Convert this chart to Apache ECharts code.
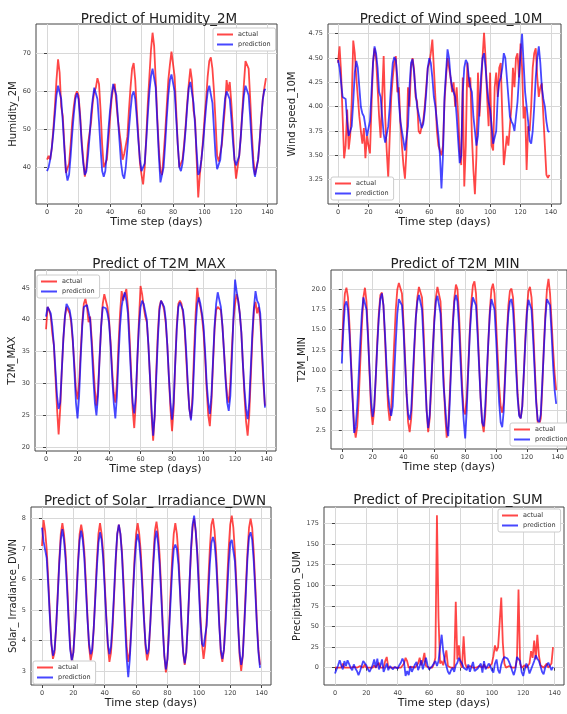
<!DOCTYPE html>
<html>
<head>
<meta charset="utf-8">
<title>Predict of weather variables</title>
<script src="https://cdn.jsdelivr.net/npm/echarts@6/dist/echarts.min.js"></script>
<style>
  html, body { margin: 0; padding: 0; background: #fff; }
  #chart { width: 567px; height: 714px; }
</style>
</head>
<body>
<div id="chart"></div>
<script>
// time steps 0..139
var days = [];
for (var i = 0; i < 140; i++) days.push(i);

var dayTicks = [0, 20, 40, 60, 80, 100, 120, 140];

var humidityTicks = [40, 50, 60, 70];
var humidityActual = [
  42, 43, 42, 45, 50, 56, 63, 68.5, 65, 56,
  53.5, 46, 38.5, 38, 41, 46, 52, 56, 59, 60,
  59, 54, 47, 42, 37.5, 40, 46, 46.5, 52, 57,
  60, 61, 63.5, 62, 55, 46, 40, 39.5, 42, 47,
  53, 58, 61, 62, 57, 52.5, 52, 46, 42, 43.5,
  44, 48, 55, 61, 66, 67.5, 63, 55, 48, 41,
  38, 35.5, 40, 48, 57, 64, 71, 75.5, 72, 63,
  53, 45, 39, 38, 43, 49, 56, 63, 67, 70.5,
  70, 64, 55, 46, 40, 39.5, 42, 46, 51, 57,
  62, 66, 63, 55, 52.5, 42, 32, 38, 42, 47,
  53, 58, 64, 68, 69, 66, 60, 52, 43, 41.5,
  42, 46, 51, 56, 63, 60, 62.5, 57, 50, 42,
  37, 40, 43, 48, 55, 62, 68, 67.5, 66, 58,
  49, 42, 38, 38.5, 42, 47, 53, 58, 61, 63.5
];
var humidityPred = [
  39, 40, 42, 45, 49, 54, 59, 61.5, 62, 58,
  52, 45, 39, 36.5, 38, 43, 49, 54, 58, 59.5,
  58, 53, 46, 41, 38, 39, 43, 48, 54, 58,
  61, 61, 58, 52, 45, 39, 37.5, 39, 44, 50,
  55, 59, 62, 62.5, 59, 53, 47, 41, 38, 37,
  40, 45, 50, 55, 59, 60, 58, 53, 47, 42,
  39, 38.5, 41, 47, 54, 60, 64, 66, 66, 61,
  52, 43, 36, 36.5, 40, 46, 53, 59, 63, 64.5,
  64, 60, 53, 46, 40, 39, 41, 45, 50, 56,
  61, 62.5, 62, 57, 51, 44, 38, 39, 42, 46,
  51, 56, 60, 61.5, 61, 57, 50, 43, 39.5, 39.5,
  42, 47, 53, 58, 60, 60, 58, 53, 47, 42,
  40.5, 41, 43, 48, 54, 59, 61.5, 62, 59, 53,
  46, 40, 37.5, 38, 42, 47, 53, 58, 60.5, 60.5
];

var windTicks = [3.25, 3.5, 3.75, 4.0, 4.25, 4.5, 4.75];
var windActual = [
  4.45, 4.62, 4.35, 3.9, 3.47, 3.6, 3.97, 3.56, 3.7, 4.05,
  4.68, 4.55, 4.3, 4.1, 3.9, 3.75, 3.62, 3.78, 3.47, 3.7,
  3.6, 3.52, 4.0, 4.45, 4.6, 4.5, 4.2, 3.9, 3.68, 4.1,
  4.52, 3.9, 3.55, 3.27, 3.7, 4.1, 4.3, 4.45, 4.52, 4.15,
  4.2, 3.85, 3.6, 3.4, 3.26, 3.55, 4.2, 4.0, 4.4, 4.5,
  4.38, 4.1, 4.05, 3.75, 3.72, 3.8, 3.85, 4.0, 4.2, 4.4,
  4.45, 4.55, 4.69, 4.4, 4.1, 3.75, 3.6, 3.55, 3.5, 3.6,
  4.05, 4.3, 4.5, 4.52, 4.3, 4.15, 4.25, 4.0, 4.2, 3.9,
  3.55, 3.4, 4.3, 3.18, 3.6, 4.45, 4.2, 4.3, 3.7, 3.35,
  3.1, 3.5, 4.35, 3.9, 4.2, 4.5, 4.76, 4.5, 4.1, 3.8,
  4.35, 3.6, 3.55, 4.2, 4.35, 4.1, 4.4, 4.45, 3.9, 3.4,
  3.42, 3.7, 3.6, 3.8, 4.0, 4.4, 4.2, 4.5, 4.55, 4.3,
  4.65, 4.4, 3.88, 4.0, 3.35, 3.8, 3.75, 4.0, 4.4, 4.55,
  4.6, 4.3, 4.1, 4.2, 4.24, 3.9, 3.6, 3.3, 3.27, 3.3
];
var windPred = [
  4.48, 4.4, 4.25, 4.1, 4.08, 4.08, 3.85, 3.7, 3.68, 3.8,
  4.05, 4.35, 4.47, 4.4, 4.2, 4.0, 3.93, 3.9, 3.8, 3.7,
  3.72, 3.85, 4.15, 4.45, 4.62, 4.55, 4.4, 4.15, 4.1, 3.9,
  3.72, 3.63, 3.65, 3.8, 4.0, 4.25, 4.45, 4.51, 4.48, 4.3,
  4.05, 3.85, 3.75, 3.65, 3.55, 3.54, 3.8, 4.2, 4.45, 4.49,
  4.35, 4.15, 4.0, 3.99, 3.85, 3.78, 3.82, 3.95, 4.15, 4.4,
  4.5, 4.45, 4.3, 4.1, 4.0, 3.85, 3.7, 3.5, 3.16, 3.5,
  4.1, 4.35, 4.59, 4.5, 4.3, 4.2, 4.15, 4.1, 3.9, 3.65,
  3.42, 3.5, 4.15, 4.4, 4.48, 4.45, 4.3, 4.2, 4.15, 3.9,
  3.75, 3.6, 3.7, 4.0, 4.3, 4.5, 4.55, 4.4, 4.2, 4.05,
  3.97, 3.8, 3.62, 3.6, 3.75, 4.1, 4.25, 4.3, 4.4, 4.55,
  4.5, 4.3, 4.1, 3.9, 3.85, 3.82, 3.75, 3.9, 4.05, 4.3,
  4.55, 4.75, 4.45, 4.15, 4.0, 3.85, 3.65, 3.62, 3.75, 4.0,
  4.3, 4.5, 4.62, 4.45, 4.2, 4.08, 4.0, 3.85, 3.75, 3.74
];

var tmaxTicks = [20, 25, 30, 35, 40, 45];
var tmaxActual = [
  38.5, 42, 41.5, 40.5, 37.8, 36, 31, 26, 22, 26,
  32, 37, 40.5, 42, 41.8, 41, 39.5, 36.5, 33, 29,
  27.5, 30, 35, 39.5, 42.5, 43.3, 42, 39.6, 40.5, 37,
  33, 29, 26.5, 29, 34, 39, 42.5, 44, 43.8, 42,
  40, 36.5, 32, 28.5, 27, 30, 36, 41, 44.5, 43,
  44, 44.8, 42, 37.5, 32, 26, 23, 27, 34, 40,
  45.3, 44, 42, 40.5, 39.6, 36, 31, 25, 21, 25,
  32, 38, 42, 43, 42.5, 41.5, 39.5, 36, 31, 26,
  22.5, 26, 33, 39, 42.5, 43, 42.5, 41, 38.5, 34,
  29.5, 26, 24.5, 28, 35, 41, 45, 43, 42, 40.5,
  38, 34, 29, 25, 23.3, 27, 33, 38.5, 41.5, 42,
  42, 41.5, 39, 35, 31, 28, 27, 30, 35.5, 40,
  42.5, 44, 43, 41, 38, 33, 28, 24, 21.8, 25,
  31, 37, 41.5, 42.8, 41, 42, 40, 35, 30, 26.5
];
var tmaxPred = [
  40.5, 42, 42.2, 41, 39, 36, 32, 28, 26, 27,
  32, 37, 40.5, 42.5, 42, 41.5, 40, 37, 32, 27,
  24.5, 28, 34, 39, 42, 42.3, 42.3, 42, 40, 36,
  31, 27, 25, 28, 34, 39, 42, 42, 41.8, 41,
  39.5, 36, 31, 27, 24.5, 28, 34, 39, 42, 43.5,
  44.3, 43, 41, 36, 31, 27, 25.3, 28, 34, 39,
  42, 43, 42.5, 42.3, 40, 36, 31, 26, 21.8, 25,
  31, 37, 41.5, 43, 42.7, 42, 40, 36, 31, 27,
  24.3, 27, 33, 38.5, 42, 42.7, 42.5, 41.5, 39, 35,
  30, 26, 24.2, 27, 33, 39, 42.5, 43.5, 42.5, 41,
  39, 35, 30, 27, 25.2, 28, 33.5, 39, 42.5, 44.3,
  44, 42, 39, 35, 30.5, 27, 25.7, 28, 34, 40.5,
  46.3, 44.5, 43, 41, 38, 33, 29, 26, 24.4, 27,
  32.5, 38, 42, 44.5, 43, 42.5, 41, 36, 31, 26.2
];

var tminTicks = [2.5, 5, 7.5, 10, 12.5, 15, 17.5, 20];
var tminActual = [
  12.3, 16.5, 19.5, 20.2, 19, 15.5, 11, 6.5, 3, 1.6,
  3, 6.5, 11, 15.5, 19, 20.2, 18.5, 14.5, 9.5, 5,
  3.2, 5, 9, 13.5, 17, 19.3, 19.6, 18, 14, 9.5,
  5.5, 3.7, 5, 9, 13.5, 17.5, 20, 20.8, 21, 19.5,
  16, 11.5, 7, 3.5, 2.3, 4, 8, 12.5, 16.5, 19,
  20.3, 20.4, 19, 15, 10, 5, 2.3, 4, 8, 12.5,
  16.5, 19, 20.3, 20.4, 18.5, 14, 9, 4.5, 1.6, 3,
  7, 11.5, 16, 19, 20.6, 20, 17, 12.5, 8, 5,
  4.5, 6.5, 10.5, 15, 18.5, 20.5, 21, 19.5, 15.5, 11,
  6.5, 3.5, 2.3, 4.5, 9, 13.5, 17.5, 20, 20.7, 19.5,
  16, 12, 8, 5.5, 4.7, 6, 10, 14.5, 18, 19.8,
  20.1, 19, 15.5, 11, 7, 4.5, 4, 5.5, 9.5, 14,
  17.5, 19.8, 20.3, 19, 15.5, 11, 6.5, 3.5, 3.2, 4,
  8, 13, 17, 20, 21.3, 19.5, 16, 12.5, 9.5, 7.5
];
var tminPred = [
  10.8, 15, 18, 18.5, 17.5, 14.5, 10.5, 6.5, 2.2, 3,
  5.5, 9.5, 13.5, 17, 19, 19.2, 17.5, 14, 10, 6,
  4.2, 5.5, 9, 13, 16.5, 18.8, 19.5, 18, 14.5, 10.5,
  7, 5.3, 4.3, 5.5, 9.5, 13.5, 17, 18.8, 19, 18,
  15, 11, 7, 4.5, 3.8, 5, 9, 13, 16.5, 18.5,
  19.3, 19.2, 17.5, 13.5, 9, 5, 2.8, 4.5, 8.5, 12.5,
  16, 18.5, 19.2, 19, 17, 12.5, 8, 5.6, 3, 1.8,
  6, 11, 15.5, 18.5, 19.3, 18.5, 15.5, 11, 7, 3.8,
  1.5, 5, 10, 14.5, 17.5, 19, 19.2, 18, 14.5, 10.5,
  6.5, 3.5, 3, 5.5, 9.5, 13.5, 17, 18.8, 18.9, 17.5,
  14, 10, 6, 3.5, 2.9, 5, 9.5, 14, 17, 18.5,
  18.8, 17.5, 14, 10, 6.5, 4.3, 4, 5.5, 9.5, 13.5,
  17, 18.7, 18.8, 17.5, 14, 10, 6, 3.8, 3.5, 4.5,
  8.5, 12.5, 16.5, 18.8, 19, 18, 14.5, 10.5, 7.5, 5.8
];

var solarTicks = [3, 4, 5, 6, 7, 8];
var solarActual = [
  7.1, 7.95, 7.6, 7.0, 6.0, 4.9, 3.9, 3.4, 3.6, 4.4,
  5.5, 6.6, 7.5, 7.85, 7.5, 6.9, 5.9, 4.8, 3.8, 3.35,
  3.6, 4.4, 5.5, 6.6, 7.5, 7.8, 7.5, 6.9, 5.9, 4.8,
  3.8, 3.35, 3.6, 4.4, 5.5, 6.6, 7.5, 7.85, 7.5, 6.9,
  5.9, 4.8, 3.8, 3.3, 3.6, 4.4, 5.5, 6.6, 7.5, 7.8,
  7.5, 6.9, 5.9, 4.8, 3.8, 3.3, 3.6, 4.5, 5.6, 6.7,
  7.5, 7.85, 7.5, 6.9, 5.9, 4.8, 3.8, 3.35, 3.6, 4.5,
  5.6, 6.7, 7.6, 7.9, 7.5, 6.8, 5.7, 4.5, 3.5, 2.95,
  3.4, 4.4, 5.6, 6.7, 7.5, 7.85, 7.5, 6.8, 5.7, 4.5,
  3.6, 3.2, 3.6, 4.6, 5.8, 6.9, 7.7, 8.0, 7.6, 6.9,
  5.9, 4.8, 3.9, 3.4, 3.8, 4.7, 5.9, 7.0, 7.8, 8.0,
  7.6, 6.9, 5.8, 4.6, 3.6, 3.3, 3.7, 4.7, 5.9, 7.0,
  7.8, 8.1, 7.7, 6.9, 5.8, 4.6, 3.5, 3.0, 3.5, 4.6,
  5.8, 6.9, 7.7, 8.0, 7.7, 6.9, 5.8, 4.6, 3.7, 3.2
];
var solarPred = [
  7.7, 7.25, 7.2, 6.7, 5.8, 4.8, 3.9, 3.5, 3.7, 4.4,
  5.4, 6.5, 7.3, 7.65, 7.3, 6.7, 5.7, 4.6, 3.7, 3.35,
  3.6, 4.4, 5.4, 6.5, 7.3, 7.6, 7.3, 6.7, 5.7, 4.7,
  3.9, 3.55, 3.7, 4.4, 5.4, 6.4, 7.2, 7.55, 7.3, 6.7,
  5.7, 4.7, 3.9, 3.55, 3.8, 4.6, 5.6, 6.7, 7.5, 7.8,
  7.5, 6.8, 5.7, 4.5, 3.4, 2.8, 3.4, 4.4, 5.5, 6.5,
  7.2, 7.5, 7.2, 6.6, 5.7, 4.7, 3.9, 3.55, 3.7, 4.5,
  5.5, 6.5, 7.3, 7.6, 7.2, 6.5, 5.5, 4.4, 3.5, 3.05,
  3.4, 4.3, 5.3, 6.3, 7.0, 7.15, 7.0, 6.5, 5.6, 4.5,
  3.6, 3.25, 3.6, 4.6, 5.8, 7.0, 7.8, 8.1, 7.6, 6.8,
  5.7, 4.6, 3.9, 3.8, 3.8, 4.5, 5.5, 6.5, 7.2, 7.4,
  7.2, 6.6, 5.6, 4.5, 3.7, 3.4, 3.7, 4.5, 5.5, 6.5,
  7.2, 7.3, 7.25, 6.6, 5.6, 4.5, 3.6, 3.2, 3.5, 4.5,
  5.6, 6.7, 7.4, 7.55, 7.3, 6.6, 5.6, 4.5, 3.6, 3.1
];

var precipTicks = [0, 25, 50, 75, 100, 125, 150, 175];
var precipActual = [
  0, 1, 0, 2, 0, 5, 0, 1, 0, 2,
  0, 0, 1, 0, 0, 0, 2, 0, 0, 4,
  0, 1, 0, 0, 0, 3, 0, 0, 6, 0,
  2, 0, 8, 13, 0, 0, 0, 2, 0, 0,
  0, 1, 0, 0, 5, 12, 8, 0, 0, 1,
  0, 0, 2, 5, 12, 3, 8, 18, 2, 0,
  0, 1, 0, 4, 12, 185, 60, 5, 8, 3,
  2, 21, 2, 0, 0, 1, 0, 80, 10, 27,
  5, 0, 38, 5, 0, 0, 2, 0, 0, 1,
  0, 0, 2, 0, 0, 4, 0, 1, 0, 0,
  5, 14, 27, 20, 25, 55, 85, 30, 5, 0,
  0, 2, 0, 0, 1, 0, 10, 95, 5, 0,
  0, 3, 0, 0, 5, 20, 12, 33, 10, 40,
  15, 3, 2, 0, 0, 5, 0, 2, 5, 25
];
var precipPred = [
  -7, -2, 3, 9, 3, -2, 8, 2, 9, 7,
  0, -3, 4, -1, -4, -9, -4, 2, 8, 6,
  3, -2, -5, -1, 3, 10, 0, 11, -2, 3,
  10, -5, -7, 5, -3, 2, 0, -2, 1, 0,
  -1, 3, 6, 11, 7, -10, -4, -9, 2, -5,
  -3, 4, 7, -3, 2, 9, -2, 5, 12, 3,
  -2, -3, 2, 4, 8, 2, 8, 25, 40, 20,
  8, 2, -5, -8, -3, 0, -5, 3, 6, 12,
  8, 5, 0, -2, -3, 4, -5, -3, 7, -4,
  -6, -1, 2, 5, -6, 8, -2, -4, 5, 2,
  -3, -6, 5, 10, -3, -7, 4, 10, 13, 13,
  11, 7, 2, -4, -9, -2, 13, 12, 8, -5,
  -10, -2, 5, 1, -7, -2, 3, 8, 15, 11,
  8, 2, -5, -8, 0, 3, 6, 2, -3, 1
];

// layout of the six panels (pixels)
var panels = [
  { title: 'Predict of Humidity_2M', tx: 154, ty: 7, left: 36, top: 24, width: 241, height: 180,
    xmin: -7, xmax: 146, ymin: 30.3, ymax: 77.8, yname: 'Humidity_2M', ygap: 15, ticks: humidityTicks, dec: 0,
    actual: humidityActual, pred: humidityPred, lx: 213, ly: 28 },
  { title: 'Predict of Wind speed_10M', tx: 446, ty: 7, left: 328, top: 24, width: 233, height: 180,
    xmin: -6.6, xmax: 146.6, ymin: 3.0, ymax: 4.85, yname: 'Wind speed_10M', ygap: 31, ticks: windTicks, dec: 2,
    actual: windActual, pred: windPred, lx: 331, ly: 177 },
  { title: 'Predict of T2M_MAX', tx: 154, ty: 252, left: 35, top: 270, width: 241, height: 181,
    xmin: -7, xmax: 146, ymin: 19.4, ymax: 47.8, yname: 'T2M_MAX', ygap: 16, ticks: tmaxTicks, dec: 0,
    actual: tmaxActual, pred: tmaxPred, lx: 37, ly: 275 },
  { title: 'Predict of T2M_MIN', tx: 450, ty: 252, left: 331, top: 270, width: 239, height: 179,
    xmin: -7, xmax: 146, ymin: 0.2, ymax: 22.4, yname: 'T2M_MIN', ygap: 24, ticks: tminTicks, dec: 1,
    actual: tminActual, pred: tminPred, lx: 510, ly: 423 },
  { title: 'Predict of Solar_ Irradiance_DWN', tx: 150, ty: 489, left: 31, top: 507, width: 240, height: 178,
    xmin: -7, xmax: 146, ymin: 2.54, ymax: 8.38, yname: 'Solar_ Irradiance_DWN', ygap: 12, ticks: solarTicks, dec: 0,
    actual: solarActual, pred: solarPred, lx: 33, ly: 661 },
  { title: 'Predict of Precipitation_SUM', tx: 443, ty: 488, left: 324, top: 507, width: 240, height: 178,
    xmin: -7, xmax: 146, ymin: -21, ymax: 195, yname: 'Precipitation_SUM', ygap: 22, ticks: precipTicks, dec: 0,
    actual: precipActual, pred: precipPred, lx: 498, ly: 509 }
];

var FONT = 'DejaVu Sans';
var RED = 'rgba(255,0,0,0.72)';
var BLUE = 'rgba(0,0,255,0.72)';

function pairs(arr) {
  return days.map(function (d, i) { return [d, arr[i]]; });
}

var option = {
  animation: false,
  backgroundColor: '#fff',
  textStyle: { fontFamily: FONT },
  title: [],
  grid: [],
  xAxis: [],
  yAxis: [],
  legend: [],
  series: []
};

panels.forEach(function (p, i) {
  option.title.push({
    text: p.title, left: p.tx, top: p.ty, textAlign: 'center',
    textStyle: { fontFamily: FONT, fontSize: 13.5, fontWeight: 'normal', color: '#222' }
  });
  option.grid.push({
    left: p.left, top: p.top, width: p.width, height: p.height,
    show: true, borderColor: '#444', borderWidth: 1, backgroundColor: '#fff'
  });
  option.xAxis.push({
    type: 'value', gridIndex: i, min: p.xmin, max: p.xmax,
    name: 'Time step (days)', nameLocation: 'middle', nameGap: 11,
    nameTextStyle: { fontFamily: FONT, fontSize: 11, color: '#222' },
    axisLine: { show: false },
    axisTick: { show: true, length: 3, lineStyle: { color: '#444' }, customValues: dayTicks },
    axisLabel: { customValues: dayTicks, fontSize: 6.5, color: '#444', margin: 5 },
    splitLine: { show: true, lineStyle: { color: '#d8d8d8', width: 1 } }
  });
  option.yAxis.push({
    type: 'value', gridIndex: i, min: p.ymin, max: p.ymax,
    name: p.yname, nameLocation: 'middle', nameGap: p.ygap, nameRotate: 90,
    nameTextStyle: { fontFamily: FONT, fontSize: 10, color: '#222' },
    axisLine: { show: false },
    axisTick: { show: true, length: 3, lineStyle: { color: '#444' }, customValues: p.ticks },
    axisLabel: {
      customValues: p.ticks, fontSize: 6.5, color: '#444', margin: 5,
      formatter: (function (dec) { return function (v) { return Number(v).toFixed(dec); }; })(p.dec)
    },
    splitLine: { show: true, lineStyle: { color: '#d8d8d8', width: 1 } }
  });
  option.legend.push({
    left: p.lx, top: p.ly, orient: 'vertical', selectedMode: false,
    data: ['actual', 'prediction'],
    icon: 'rect', itemWidth: 16, itemHeight: 2, itemGap: 3,
    textStyle: { fontFamily: FONT, fontSize: 6.5, color: '#333' },
    backgroundColor: '#fff', borderColor: '#ccc', borderWidth: 1, borderRadius: 2,
    padding: [3, 5, 3, 4]
  });
  option.series.push({
    name: 'actual', type: 'line', xAxisIndex: i, yAxisIndex: i,
    data: pairs(p.actual), showSymbol: false, symbol: 'none',
    color: RED, lineStyle: { color: RED, width: 1.8 }, z: 2
  });
  option.series.push({
    name: 'prediction', type: 'line', xAxisIndex: i, yAxisIndex: i,
    data: pairs(p.pred), showSymbol: false, symbol: 'none',
    color: BLUE, lineStyle: { color: BLUE, width: 1.8 }, z: 3
  });
});

var chart = echarts.init(document.getElementById('chart'), null, { renderer: 'canvas' });
chart.setOption(option);
</script>
</body>
</html>
